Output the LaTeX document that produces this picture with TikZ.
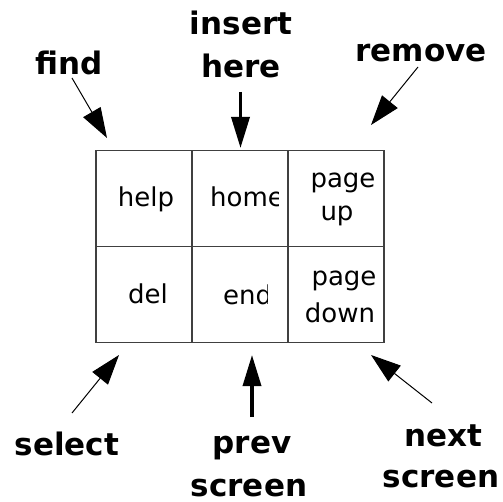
\documentclass[tikz,border=0pt]{standalone}
\usepackage{fontspec}
\setmainfont{DejaVu Sans}
\usetikzlibrary{arrows.meta}
\begin{document}
\begin{tikzpicture}[x=1pt,y=-1pt,
  cell/.style={draw=black!75,line width=1.5pt,minimum width=96pt,minimum height=96pt,inner sep=0pt},
  keytext/.style={anchor=base,inner sep=0pt,font=\fontsize{26}{30}\selectfont},
  lbl/.style={anchor=base,inner sep=0pt,font=\fontsize{31}{40}\selectfont\bfseries},
  thin arrow/.style={line width=1pt,-{Triangle[length=30pt,width=20pt]}},
  thick arrow/.style={line width=3.5pt,-{Triangle[length=31pt,width=18pt]}}]
\useasboundingbox (0,0) rectangle (503,502);
% cells
\node[cell] (c11) at (144,198.5) {};
\node[cell] (c12) at (240,198.5) {};
\node[cell] (c13) at (336,198.5) {};
\node[cell] (c21) at (144,294.5) {};
\node[cell] (c22) at (240,294.5) {};
\node[cell] (c23) at (336,294.5) {};
% key texts
\node[keytext] (thelp) at (146,207) {help};
\begin{scope}
\clip (200,150) rectangle (278,247);
\node[keytext,anchor=base west] (thome) at (210,207) {home};
\end{scope}
\node[keytext] (tpage1) at (343,188) {page};
\node[keytext] (tup) at (337,221) {up};
\node[keytext] (tdel) at (148,304) {del};
\begin{scope}
\clip (200,247) rectangle (267,342);
\node[keytext,anchor=base west] (tend) at (223,305) {end};
\end{scope}
\node[keytext] (tpage2) at (344,286) {page};
\node[keytext] (tdown) at (340,323) {down};
% labels
\node[lbl] (find) at (69,75) {find};
\node[lbl] (insert) at (241,35) {insert};
\node[lbl] (here) at (241,78) {here};
\node[lbl] (remove) at (421,62) {remove};
\node[lbl] (select) at (67,455) {select};
\node[lbl] (prev) at (252,453) {prev};
\node[lbl] (screen1) at (249,496) {screen};
\node[lbl] (next) at (443,446) {next};
\node[lbl] (screen2) at (441,487) {screen};
% arrow endpoints
\coordinate (findT) at (72,78);
\coordinate (findH) at (107,138);
\coordinate (insT) at (240.5,92);
\coordinate (insH) at (240.5,148);
\coordinate (remT) at (418,67);
\coordinate (remH) at (371,125);
\coordinate (selT) at (72,413);
\coordinate (selH) at (119,355);
\coordinate (prvT) at (252,417);
\coordinate (prvH) at (252,355);
\coordinate (nxtT) at (432,403);
\coordinate (nxtH) at (371,355);
\draw[thin arrow] (findT) -- (findH);
\draw[thick arrow] (insT) -- (insH);
\draw[thin arrow] (remT) -- (remH);
\draw[thin arrow] (selT) -- (selH);
\draw[thick arrow] (prvT) -- (prvH);
\draw[thin arrow] (nxtT) -- (nxtH);
\end{tikzpicture}
\end{document}
